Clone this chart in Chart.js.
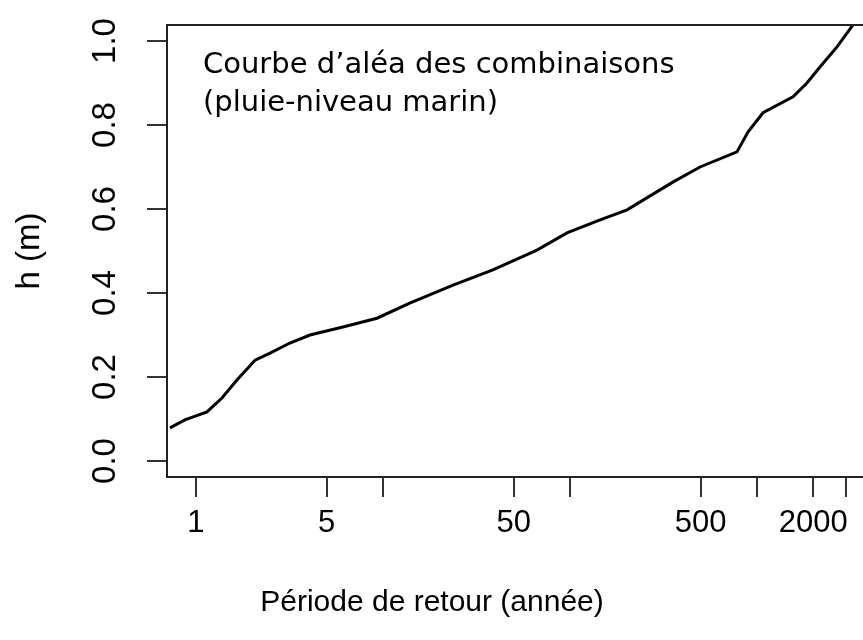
<!DOCTYPE html>
<html>
<head>
<meta charset="utf-8">
<script src="https://cdn.jsdelivr.net/npm/chart.js@4.4.0/dist/chart.umd.min.js"></script>
<style>
  body { margin: 0; background: #fff; }
</style>
</head>
<body>
<canvas id="myChart" width="863" height="640"></canvas>
<script>
// return period (years) and level h (m)
let periods = [0.726, 0.873, 1.145, 1.377, 1.656, 2.07, 2.49, 3.18, 4.07, 6.11, 9.29, 13.9, 23.7, 38.7, 66.6, 96.4, 145, 202, 355, 496, 782, 895, 1077, 1559, 1850, 2172, 2679, 3260, 3600];
let heights = [0.079, 0.098, 0.117, 0.150, 0.193, 0.240, 0.257, 0.281, 0.300, 0.319, 0.340, 0.376, 0.419, 0.455, 0.502, 0.543, 0.574, 0.598, 0.664, 0.700, 0.736, 0.783, 0.829, 0.867, 0.900, 0.938, 0.986, 1.038, 1.07];

let xTicks = [1, 5, 10, 50, 100, 500, 1000, 2000, 3000];
let xLabels = ['1', '5', '', '50', '', '500', '', '2000', ''];
let yTicks = [0, 0.2, 0.4, 0.6, 0.8, 1.0];

let noteLines = ['Courbe d\u2019aléa des combinaisons', '(pluie-niveau marin)'];
let xTitle = 'Période de retour (année)';
let yTitle = 'h (m)';

const sans = '"Liberation Sans", Arial, sans-serif';

const framePlugin = {
    id: 'frame',
    afterDraw(chart) {
        const ctx = chart.ctx;
        const a = chart.chartArea;
        ctx.save();
        ctx.strokeStyle = '#222';
        ctx.lineWidth = 2;
        ctx.beginPath();
        ctx.moveTo(a.left, a.top);
        ctx.lineTo(a.right + 2, a.top);
        ctx.stroke();

        ctx.fillStyle = '#000';
        ctx.font = '29px "DejaVu Sans"';
        ctx.textAlign = 'left';
        ctx.textBaseline = 'alphabetic';
        for (let i = 0; i < noteLines.length; i++) {
            ctx.fillText(noteLines[i], a.left + 36, a.top + 48 + i * 38);
        }

        ctx.font = '30px ' + sans;
        ctx.textAlign = 'center';
        ctx.textBaseline = 'middle';
        ctx.fillText(xTitle, a.left + 265, a.bottom + 126);
        ctx.restore();
    }
};

let points = [];
for (let i = 0; i < periods.length; i++) {
    points.push({x: periods[i], y: heights[i]});
}

const ctx = document.getElementById('myChart');

new Chart(ctx, {
    type: 'line',
    data: {
        datasets: [{
            data: points,
            borderColor: '#000',
            borderWidth: 3,
            pointRadius: 0,
            tension: 0,
            clip: 0,
        }]
    },
    options: {
        responsive: false,
        animation: false,
        layout: {
            padding: {top: 25, right: 0, left: 0, bottom: 0}
        },
        scales: {
            x: {
                type: 'logarithmic',
                min: 0.70,
                max: 3690,
                afterBuildTicks: (scale) => {
                    scale.ticks = xTicks.map(v => ({value: v}));
                },
                afterFit: (scale) => {
                    scale.height = 163;
                    scale.paddingLeft = 0;
                    scale.paddingRight = 0;
                },
                grid: {
                    drawOnChartArea: false,
                    drawTicks: true,
                    tickLength: 20,
                    color: '#333',
                    lineWidth: 2,
                },
                border: {
                    display: true,
                    color: '#222',
                    width: 2,
                },
                ticks: {
                    autoSkip: false,
                    maxRotation: 0,
                    padding: 8,
                    color: '#000',
                    font: {family: sans, size: 31},
                    callback: (value, index) => xLabels[index],
                },
            },
            y: {
                min: -0.038,
                max: 1.038,
                afterBuildTicks: (scale) => {
                    scale.ticks = yTicks.map(v => ({value: v}));
                },
                afterFit: (scale) => {
                    scale.width = 167;
                    scale.paddingTop = 0;
                    scale.paddingBottom = 0;
                },
                grid: {
                    drawOnChartArea: false,
                    drawTicks: true,
                    tickLength: 20,
                    color: '#333',
                    lineWidth: 2,
                },
                border: {
                    display: true,
                    color: '#222',
                    width: 2,
                },
                ticks: {
                    minRotation: 90,
                    maxRotation: 90,
                    crossAlign: 'center',
                    padding: 18,
                    color: '#000',
                    font: {family: sans, size: 33},
                    callback: (value) => value.toFixed(1),
                },
                title: {
                    display: true,
                    text: yTitle,
                    color: '#000',
                    font: {family: sans, size: 33},
                    padding: {top: 10, bottom: 0},
                },
            }
        },
        plugins: {
            legend: {display: false},
            tooltip: {enabled: false},
        }
    },
    plugins: [framePlugin]
});
</script>
</body>
</html>
